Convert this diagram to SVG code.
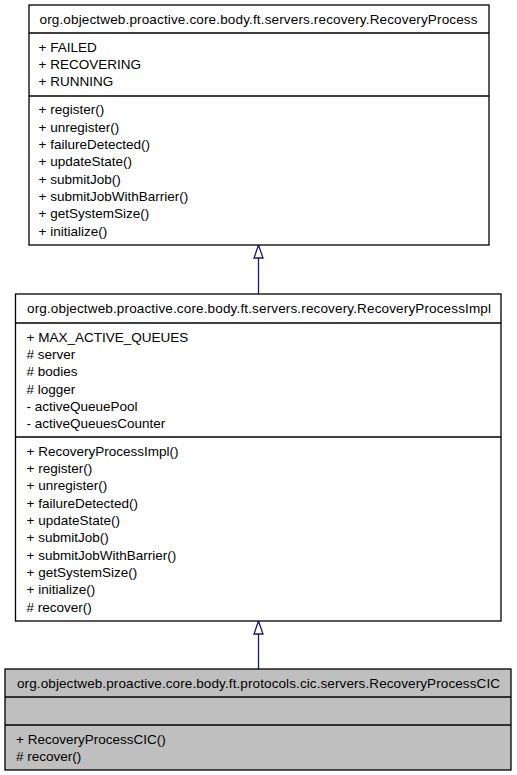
<svg xmlns="http://www.w3.org/2000/svg" width="517" height="775" viewBox="0 0 517 775">
<style>
text{font-family:"Liberation Sans",Arial,sans-serif;font-size:13.5px;fill:#000}
.t{text-anchor:middle}
.box{fill:#fff;stroke:#000;stroke-width:1.3}
.cur{fill:#bfbfbf}
.sep{stroke:#000;stroke-width:1.3}
.edge{stroke:#191970;stroke-width:1.3;fill:none}
.head{fill:#fff;stroke:#191970;stroke-width:1.3}
</style>
<rect width="517" height="775" fill="#fff"/>
<g id="connectors">
<line class="edge" x1="258.5" y1="258" x2="258.5" y2="294"/>
<polygon class="head" points="258.5,245 254,258 263,258"/>
<line class="edge" x1="258.5" y1="634" x2="258.5" y2="669"/>
<polygon class="head" points="258.5,621 254,634 263,634"/>
</g>
<g id="RecoveryProcess">
<rect class="box" x="29" y="5" width="460" height="240"/>
<line class="sep" x1="29" y1="33" x2="489" y2="33"/>
<line class="sep" x1="29" y1="96" x2="489" y2="96"/>
<text class="t" x="258.5" y="24" textLength="438" lengthAdjust="spacing">org.objectweb.proactive.core.body.ft.servers.recovery.RecoveryProcess</text>
<text x="38.5" y="51.7">+ FAILED</text>
<text x="38.5" y="69">+ RECOVERING</text>
<text x="38.5" y="86.3">+ RUNNING</text>
<text x="38.5" y="114.3">+ register()</text>
<text x="38.5" y="131.7">+ unregister()</text>
<text x="38.5" y="149">+ failureDetected()</text>
<text x="38.5" y="166.4">+ updateState()</text>
<text x="38.5" y="183.7">+ submitJob()</text>
<text x="38.5" y="201.1">+ submitJobWithBarrier()</text>
<text x="38.5" y="218.4">+ getSystemSize()</text>
<text x="38.5" y="235.8">+ initialize()</text>
</g>
<g id="RecoveryProcessImpl">
<rect class="box" x="15.5" y="294" width="485.5" height="327"/>
<line class="sep" x1="15.5" y1="323" x2="501" y2="323"/>
<line class="sep" x1="15.5" y1="437" x2="501" y2="437"/>
<text class="t" x="259" y="313" textLength="464" lengthAdjust="spacing">org.objectweb.proactive.core.body.ft.servers.recovery.RecoveryProcessImpl</text>
<text x="26.5" y="341.5">+ MAX_ACTIVE_QUEUES</text>
<text x="26.5" y="358.9"># server</text>
<text x="26.5" y="376.2"># bodies</text>
<text x="26.5" y="393.6"># logger</text>
<text x="26.5" y="410.9">- activeQueuePool</text>
<text x="26.5" y="428.3">- activeQueuesCounter</text>
<text x="26.5" y="455.5">+ RecoveryProcessImpl()</text>
<text x="26.5" y="472.9">+ register()</text>
<text x="26.5" y="490.2">+ unregister()</text>
<text x="26.5" y="507.6">+ failureDetected()</text>
<text x="26.5" y="524.9">+ updateState()</text>
<text x="26.5" y="542.3">+ submitJob()</text>
<text x="26.5" y="559.6">+ submitJobWithBarrier()</text>
<text x="26.5" y="577">+ getSystemSize()</text>
<text x="26.5" y="594.3">+ initialize()</text>
<text x="26.5" y="611.7"># recover()</text>
</g>
<g id="RecoveryProcessCIC">
<rect class="box cur" x="5" y="669" width="506" height="101"/>
<line class="sep" x1="5" y1="697" x2="511" y2="697"/>
<line class="sep" x1="5" y1="725" x2="511" y2="725"/>
<text class="t" x="258.5" y="688" textLength="483" lengthAdjust="spacing">org.objectweb.proactive.core.body.ft.protocols.cic.servers.RecoveryProcessCIC</text>
<text x="16" y="743.5">+ RecoveryProcessCIC()</text>
<text x="16" y="760.9"># recover()</text>
</g>
</svg>
